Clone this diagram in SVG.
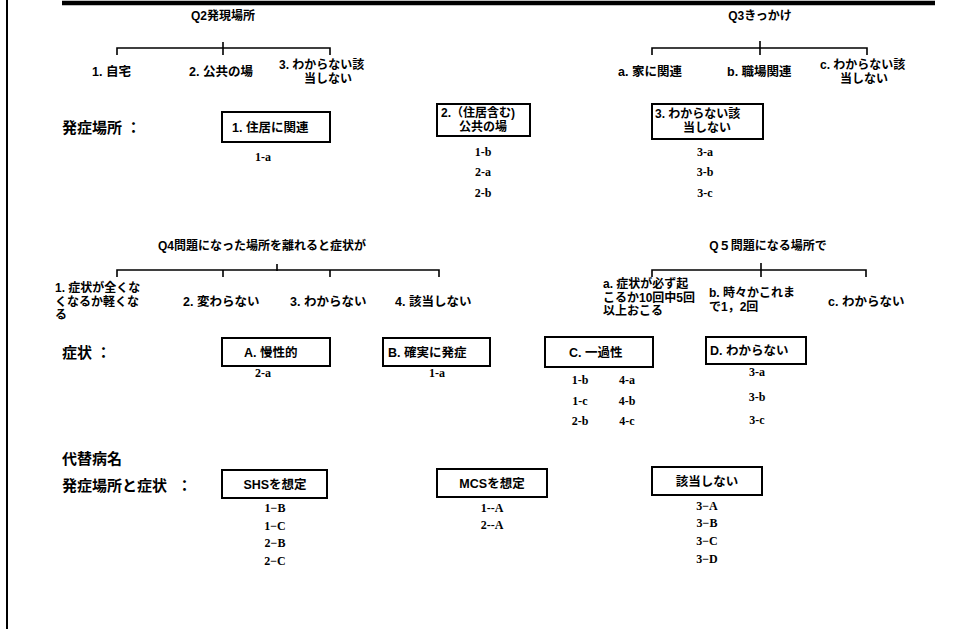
<svg xmlns="http://www.w3.org/2000/svg" width="955" height="629" viewBox="0 0 955 629">
<style>
text{font-family:"Liberation Sans","Noto Sans CJK JP",sans-serif;font-weight:bold;font-size:12.5px;fill:#000}
.t{font-size:12px}
.w{font-size:12px}
.h{font-size:15px}
.m{text-anchor:middle}
.s{font-family:"Liberation Serif","Noto Sans CJK JP",serif;font-size:12px;text-anchor:middle}
.box{fill:#fff;stroke:#000;stroke-width:2}
.ln{fill:none;stroke:#000;stroke-width:1.6}
</style>
<rect width="955" height="629" fill="#fff"/>
<g id="frame">
<line x1="7" y1="0" x2="7" y2="629" stroke="#000" stroke-width="2"/>
<line x1="62" y1="3" x2="935" y2="3" stroke="#000" stroke-width="4.5"/>
</g>
<g id="connectors">
<path class="ln" d="M117,55 V48 H330 V55 M223,42 V55"/>
<path class="ln" d="M652,55 V48 H867 V55 M760,41 V55"/>
<path class="ln" d="M117,277 V270 H439 V277 M223,270 V277 M330,270 V277 M277,264 V271"/>
<path class="ln" d="M652,277 V270 H866 V277 M761,263 V277"/>
</g>
<g id="q2">
<text class="m t" x="223" y="20">Q2発現場所</text>
<text x="92" y="76">1. 自宅</text>
<text x="189" y="76">2. 公共の場</text>
<text class="w" x="279" y="69">3.  わからない該</text>
<text class="m w" x="328" y="83">当しない</text>
</g>
<g id="q3">
<text class="m t" x="760" y="20">Q3きっかけ</text>
<text x="618" y="76">a. 家に関連</text>
<text x="727" y="76">b. 職場関連</text>
<text class="w" x="820" y="69">c. わからない該</text>
<text class="m w" x="864" y="83">当しない</text>
</g>
<text class="h" x="62" y="133">発症場所<tspan dx="4">：</tspan></text>
<g id="place1">
<rect class="box" x="222" y="112" width="108" height="30"/>
<text x="232" y="132">1.  住居に関連</text>
<text class="s" x="263" y="161">1-a</text>
</g>
<g id="place2">
<rect class="box" x="437" y="104" width="93" height="32"/>
<text class="w" x="441" y="117">2.（住居含む)</text>
<text class="m w" x="483" y="131">公共の場</text>
<text class="s" x="483" y="156">1-b</text>
<text class="s" x="483" y="176">2-a</text>
<text class="s" x="483" y="197">2-b</text>
</g>
<g id="place3">
<rect class="box" x="652" y="104" width="111" height="35"/>
<text class="w" x="655" y="118">3.  わからない該</text>
<text class="m w" x="707" y="132">当しない</text>
<text class="s" x="705" y="156">3-a</text>
<text class="s" x="705" y="176">3-b</text>
<text class="s" x="705" y="197">3-c</text>
</g>
<g id="q4">
<text class="m t" x="262" y="250">Q4問題になった場所を離れると症状が</text>
<text class="w" x="55" y="292">1. 症状が全くな</text>
<text class="w" x="55" y="305.5">くなるか軽くな</text>
<text class="w" x="55" y="319">る</text>
<text x="183" y="306">2. 変わらない</text>
<text x="290" y="306">3. わからない</text>
<text x="395" y="306">4. 該当しない</text>
</g>
<g id="q5">
<text class="m t" x="768" y="250">Q５問題になる場所で</text>
<text class="w" x="603" y="288">a. 症状が必ず起</text>
<text class="w" x="603" y="301.5">こるか10回中5回</text>
<text class="w" x="603" y="315">以上おこる</text>
<text class="w" x="709" y="297">b. 時々かこれま</text>
<text class="w" x="709" y="310.5">で1，2回</text>
<text x="828" y="306">c. わからない</text>
</g>
<text class="h" x="62" y="358">症状<tspan dx="4">：</tspan></text>
<g id="symA">
<rect class="box" x="222" y="338" width="108" height="28"/>
<text x="244" y="357">A.  慢性的</text>
<text class="s" x="263" y="377">2-a</text>
</g>
<g id="symB">
<rect class="box" x="383" y="338" width="107" height="28"/>
<text x="388" y="357">B.  確実に発症</text>
<text class="s" x="437" y="377">1-a</text>
</g>
<g id="symC">
<rect class="box" x="545" y="337" width="108" height="30"/>
<text x="569" y="357">C.  一過性</text>
<text class="s" x="580" y="384">1-b</text>
<text class="s" x="580" y="405">1-c</text>
<text class="s" x="580" y="425">2-b</text>
<text class="s" x="627" y="384">4-a</text>
<text class="s" x="627" y="405">4-b</text>
<text class="s" x="627" y="425">4-c</text>
</g>
<g id="symD">
<rect class="box" x="706" y="337" width="100" height="27"/>
<text x="710" y="355">D.  わからない</text>
<text class="s" x="757" y="376">3-a</text>
<text class="s" x="757" y="401">3-b</text>
<text class="s" x="757" y="424">3-c</text>
</g>
<text class="h" x="62" y="464">代替病名</text>
<text class="h" x="62" y="491">発症場所と症状<tspan dx="10">：</tspan></text>
<g id="alt1">
<rect class="box" x="222" y="470" width="105" height="28"/>
<text class="m" x="275" y="489">SHSを想定</text>
<text class="s" x="275" y="512">1−B</text>
<text class="s" x="275" y="530">1−C</text>
<text class="s" x="275" y="547">2−B</text>
<text class="s" x="275" y="565">2−C</text>
</g>
<g id="alt2">
<rect class="box" x="437" y="469" width="110" height="28"/>
<text class="m" x="492" y="488">MCSを想定</text>
<text class="s" x="492" y="512">1--A</text>
<text class="s" x="492" y="529">2--A</text>
</g>
<g id="alt3">
<rect class="box" x="652" y="467" width="110" height="28"/>
<text class="m" x="707" y="486">該当しない</text>
<text class="s" x="707" y="510">3−A</text>
<text class="s" x="707" y="527">3−B</text>
<text class="s" x="707" y="545">3−C</text>
<text class="s" x="707" y="563">3−D</text>
</g>
</svg>
